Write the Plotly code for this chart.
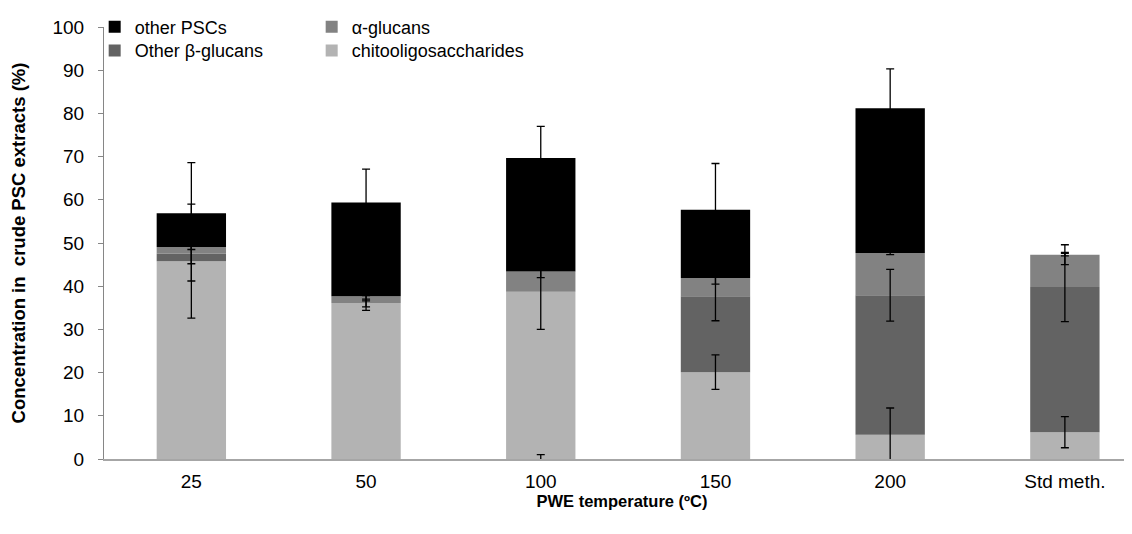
import numpy as np
import plotly.graph_objects as go

cats = ["25", "50", "100", "150", "200", "Std meth."]
chito = [45.8, 36.1, 38.7, 20.1, 5.6, 6.2]
chito_err = [13.2, 1.7, 8.7, 4.0, 6.2, 3.6]
other_beta = [1.7, 0.0, -0.4, 17.6, 32.3, 33.6]
other_beta_err = [6.3, 0.9, 1.4, 5.7, 6.0, 8.0]
alpha = [1.6, 1.6, 4.7, 4.2, 9.8, 7.5]
alpha_err = [0.6, 1.1, 1.4, 1.4, 0.4, 2.3]
other_psc = [7.8, 21.7, 26.3, 15.8, 33.5, 0.0]
other_psc_err = [11.7, 7.7, 7.3, 10.7, 9.1, 0.3]

series = [
    ("chitooligosaccharides", chito, chito_err, "#b3b3b3", "legend2"),
    ("Other β-glucans", other_beta, other_beta_err, "#636363", "legend2"),
    ("α-glucans", alpha, alpha_err, "#828282", "legend"),
    ("other PSCs", other_psc, other_psc_err, "#000000", "legend"),
]

FONT = "Liberation Sans, Arial, sans-serif"
fig = go.Figure()

for name, vals, err, col, lg in series:
    fig.add_trace(go.Bar(
        x=cats, y=vals, name=name, marker=dict(color=col, line=dict(width=0)),
        width=0.397, legend=lg, hoverinfo="skip",
    ))

# error bars drawn on top of all bars, at the top of each stacked segment
pos = np.zeros(len(cats))
neg = np.zeros(len(cats))
for name, vals, err, col, lg in series:
    v = np.array(vals, dtype=float)
    top = np.where(v >= 0, pos + v, neg + v)
    pos = np.where(v >= 0, pos + v, pos)
    neg = np.where(v < 0, neg + v, neg)
    fig.add_trace(go.Scatter(
        x=cats, y=top, mode="markers",
        marker=dict(size=1, color="rgba(0,0,0,0)"),
        error_y=dict(type="data", array=err, visible=True, color="#000000",
                     thickness=1.3, width=4),
        showlegend=False, hoverinfo="skip",
    ))

fig.update_layout(
    width=1132, height=534,
    barmode="relative",
    paper_bgcolor="white", plot_bgcolor="white",
    margin=dict(l=96, r=0, t=19, b=83),
    font=dict(family=FONT, size=18, color="#000000"),
    showlegend=True,
    legend=dict(orientation="h", traceorder="reversed", xref="paper", yref="paper",
                x=-0.009, y=1.0, xanchor="left", yanchor="middle",
                entrywidth=172, entrywidthmode="pixels",
                font=dict(family=FONT, size=18), bgcolor="rgba(0,0,0,0)"),
    legend2=dict(orientation="h", traceorder="reversed", xref="paper", yref="paper",
                 x=-0.009, y=0.945, xanchor="left", yanchor="middle",
                 entrywidth=172, entrywidthmode="pixels",
                 font=dict(family=FONT, size=18), bgcolor="rgba(0,0,0,0)"),
    xaxis=dict(
        type="category", range=[-0.5, 5.43], showline=True, linecolor="#a6a6a6",
        linewidth=1.5, ticks="", showgrid=False, ticklabelstandoff=4,
        tickfont=dict(family=FONT, size=19),
        title=dict(text="<b>PWE temperature (ºC)</b>", font=dict(family=FONT, size=16.5),
                   standoff=4),
    ),
    yaxis=dict(
        range=[0, 100], dtick=10, showline=True, linecolor="#868686", linewidth=1,
        ticks="outside", ticklen=5, tickcolor="#868686", showgrid=False, zeroline=False,
        tickfont=dict(family=FONT, size=19), ticklabelstandoff=10,
        title=dict(text="<b>Concentration in  crude PSC extracts (%)</b>",
                   font=dict(family=FONT, size=18.5), standoff=22),
    ),
)

fig.write_html("out.html")
